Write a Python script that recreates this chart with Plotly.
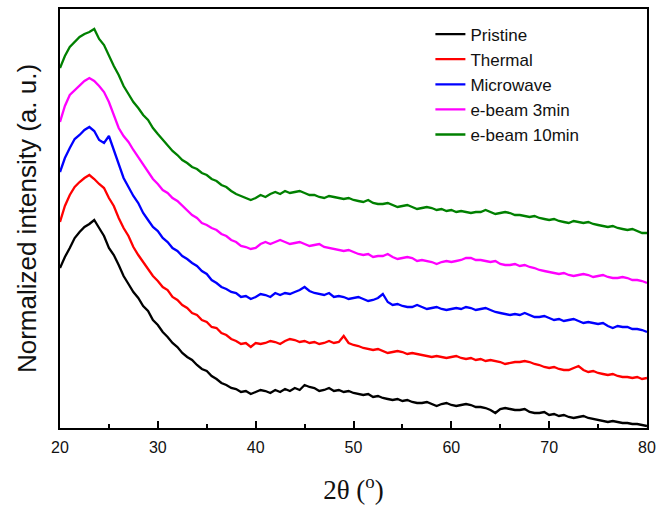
import plotly.graph_objects as go

two_theta = [20 + 0.5 * i for i in range(121)]

pristine = [160, 171, 180, 190, 196, 201, 204, 208, 200, 192, 180, 173, 163, 152, 144, 136, 130, 122, 117, 108,
            103, 96, 91, 85, 81, 75, 71, 68, 63, 59, 57, 52, 49, 45, 43, 40, 39, 36, 37, 34,
            36, 38, 37, 35, 38, 36, 39, 37, 40, 38, 43, 41, 40, 37, 38, 40, 37, 38, 36, 37,
            35, 34, 33, 34, 31, 32, 30, 29, 28, 29, 27, 28, 26, 25, 25, 26, 24, 22, 24, 25,
            23, 22, 23, 24, 23, 21, 21, 20, 18, 15, 19, 20, 19, 18, 18, 19, 16, 15, 15, 16,
            13, 14, 12, 13, 11, 10, 11, 12, 10, 9, 8, 7, 6, 7, 6, 5, 5, 4, 4, 3, 2]

thermal = [206, 222, 233, 241, 246, 250, 253, 249, 244, 240, 230, 222, 210, 200, 192, 181, 173, 166, 160, 152,
           147, 141, 138, 131, 128, 123, 120, 115, 113, 108, 106, 101, 100, 95, 93, 89, 87, 84, 85, 81,
           85, 84, 85, 87, 86, 84, 87, 89, 88, 86, 87, 85, 86, 84, 85, 87, 85, 86, 92, 85,
           83, 82, 80, 79, 78, 79, 77, 75, 76, 77, 76, 74, 75, 74, 73, 72, 71, 72, 71, 70,
           71, 72, 70, 69, 70, 68, 69, 67, 68, 67, 66, 64, 65, 66, 66, 67, 66, 64, 63, 61,
           60, 61, 59, 58, 58, 60, 62, 58, 56, 57, 55, 54, 53, 54, 52, 51, 51, 50, 51, 49, 50]

microwave = [256, 270, 280, 289, 293, 298, 301, 297, 288, 285, 292, 278, 263, 250, 241, 232, 225, 215, 208, 201,
             197, 190, 186, 180, 177, 172, 169, 165, 162, 157, 154, 148, 145, 141, 139, 136, 135, 131, 132, 129,
             131, 134, 133, 131, 135, 133, 135, 134, 136, 138, 141, 137, 135, 134, 133, 135, 131, 132, 131, 129,
             130, 131, 129, 127, 128, 130, 134, 126, 123, 124, 122, 121, 121, 123, 121, 119, 120, 121, 119, 118,
             119, 120, 119, 121, 120, 118, 119, 120, 118, 116, 115, 114, 113, 114, 113, 115, 113, 111, 111, 112,
             110, 108, 109, 107, 108, 109, 107, 105, 106, 105, 104, 105, 102, 100, 102, 101, 101, 99, 99, 98, 96]

ebeam_3min = [306, 322, 333, 338, 343, 347, 350, 347, 342, 336, 326, 313, 300, 292, 286, 278, 271, 263, 256, 249,
              244, 238, 235, 230, 227, 222, 218, 213, 210, 205, 203, 200, 198, 194, 192, 188, 186, 182, 181, 179,
              180, 184, 186, 184, 186, 188, 186, 184, 185, 186, 184, 182, 183, 184, 181, 180, 179, 178, 177, 178,
              176, 174, 173, 174, 171, 172, 172, 174, 171, 169, 170, 171, 170, 167, 168, 167, 166, 164, 166, 167,
              166, 167, 168, 170, 170, 168, 168, 167, 166, 167, 164, 163, 163, 164, 162, 163, 161, 160, 158, 157,
              156, 155, 154, 155, 153, 152, 153, 154, 153, 151, 152, 153, 151, 150, 150, 151, 150, 148, 148, 147, 145]

ebeam_10min = [360, 372, 381, 386, 391, 394, 396, 399, 389, 383, 372, 362, 353, 342, 334, 326, 320, 313, 308, 300,
               294, 288, 283, 277, 273, 268, 265, 261, 259, 255, 253, 249, 247, 243, 241, 237, 234, 232, 230, 228,
               230, 233, 231, 234, 236, 234, 237, 235, 236, 237, 235, 233, 233, 231, 230, 232, 231, 230, 229, 230,
               228, 227, 226, 228, 225, 224, 224, 225, 223, 221, 222, 223, 221, 219, 220, 221, 220, 218, 219, 217,
               218, 216, 217, 216, 215, 216, 216, 218, 216, 214, 215, 216, 215, 213, 213, 212, 211, 212, 210, 209,
               208, 209, 207, 206, 205, 207, 206, 205, 206, 204, 203, 202, 201, 202, 200, 199, 198, 199, 197, 195, 195]

series_names = ["Pristine", "Thermal", "Microwave", "e-beam 3min", "e-beam 10min"]
series_values = [pristine, thermal, microwave, ebeam_3min, ebeam_10min]
series_colors = ["#000000", "#FF0000", "#0000FF", "#FF00FF", "#008000"]

x_ticks = [20, 30, 40, 50, 60, 70, 80]

fig = go.Figure()
for name, vals, col in zip(series_names, series_values, series_colors):
    fig.add_trace(go.Scatter(x=two_theta, y=vals, mode="lines", name=name,
                             legendgroup=name,
                             line=dict(color=col, width=2.3)))

fig.update_layout(
    width=658, height=506,
    margin=dict(l=60, r=11, t=9, b=78, autoexpand=False),
    paper_bgcolor="white", plot_bgcolor="white",
    showlegend=True,
    legend=dict(x=0.631, y=0.982, xanchor="left", yanchor="top",
                font=dict(family="Liberation Sans, Arial", size=17, color="#111"),
                bgcolor="rgba(0,0,0,0)", tracegroupgap=0, itemwidth=30),
    font=dict(family="Liberation Sans, Arial", color="#111"),
)

fig.update_xaxes(
    range=[20, 80], tickvals=x_ticks, ticktext=[str(t) for t in x_ticks],
    ticks="inside", ticklen=7, tickwidth=1.5, tickcolor="black",
    minor=dict(ticks="inside", ticklen=4, dtick=5, tick0=0, tickwidth=1.5, tickcolor="black"),
    showline=True, linewidth=2, linecolor="black", mirror=True,
    showgrid=False, zeroline=False, automargin=False, ticklabelstandoff=4,
    tickfont=dict(family="Liberation Sans, Arial", size=16, color="#111"),
    title=dict(text="2θ (<sup>o</sup>)", font=dict(family="Liberation Serif, Times New Roman", size=27, color="#111"),
               standoff=25),
)
fig.update_yaxes(
    range=[0, 419], showticklabels=False, ticks="",
    showline=True, linewidth=2, linecolor="black", mirror=True,
    showgrid=False, zeroline=False, automargin=False,
    title=dict(text="Normalized intensity (a. u.)", font=dict(family="Liberation Sans, Arial", size=26, color="#111"),
               standoff=14),
)

fig.write_html("out.html", config={"displayModeBar": False})

with open("out.html", "r", encoding="utf-8") as f:
    html = f.read()
html = html.replace("<head>", "<head><style>html,body{margin:0;padding:0;overflow:hidden;}</style>", 1)
with open("out.html", "w", encoding="utf-8") as f:
    f.write(html)
